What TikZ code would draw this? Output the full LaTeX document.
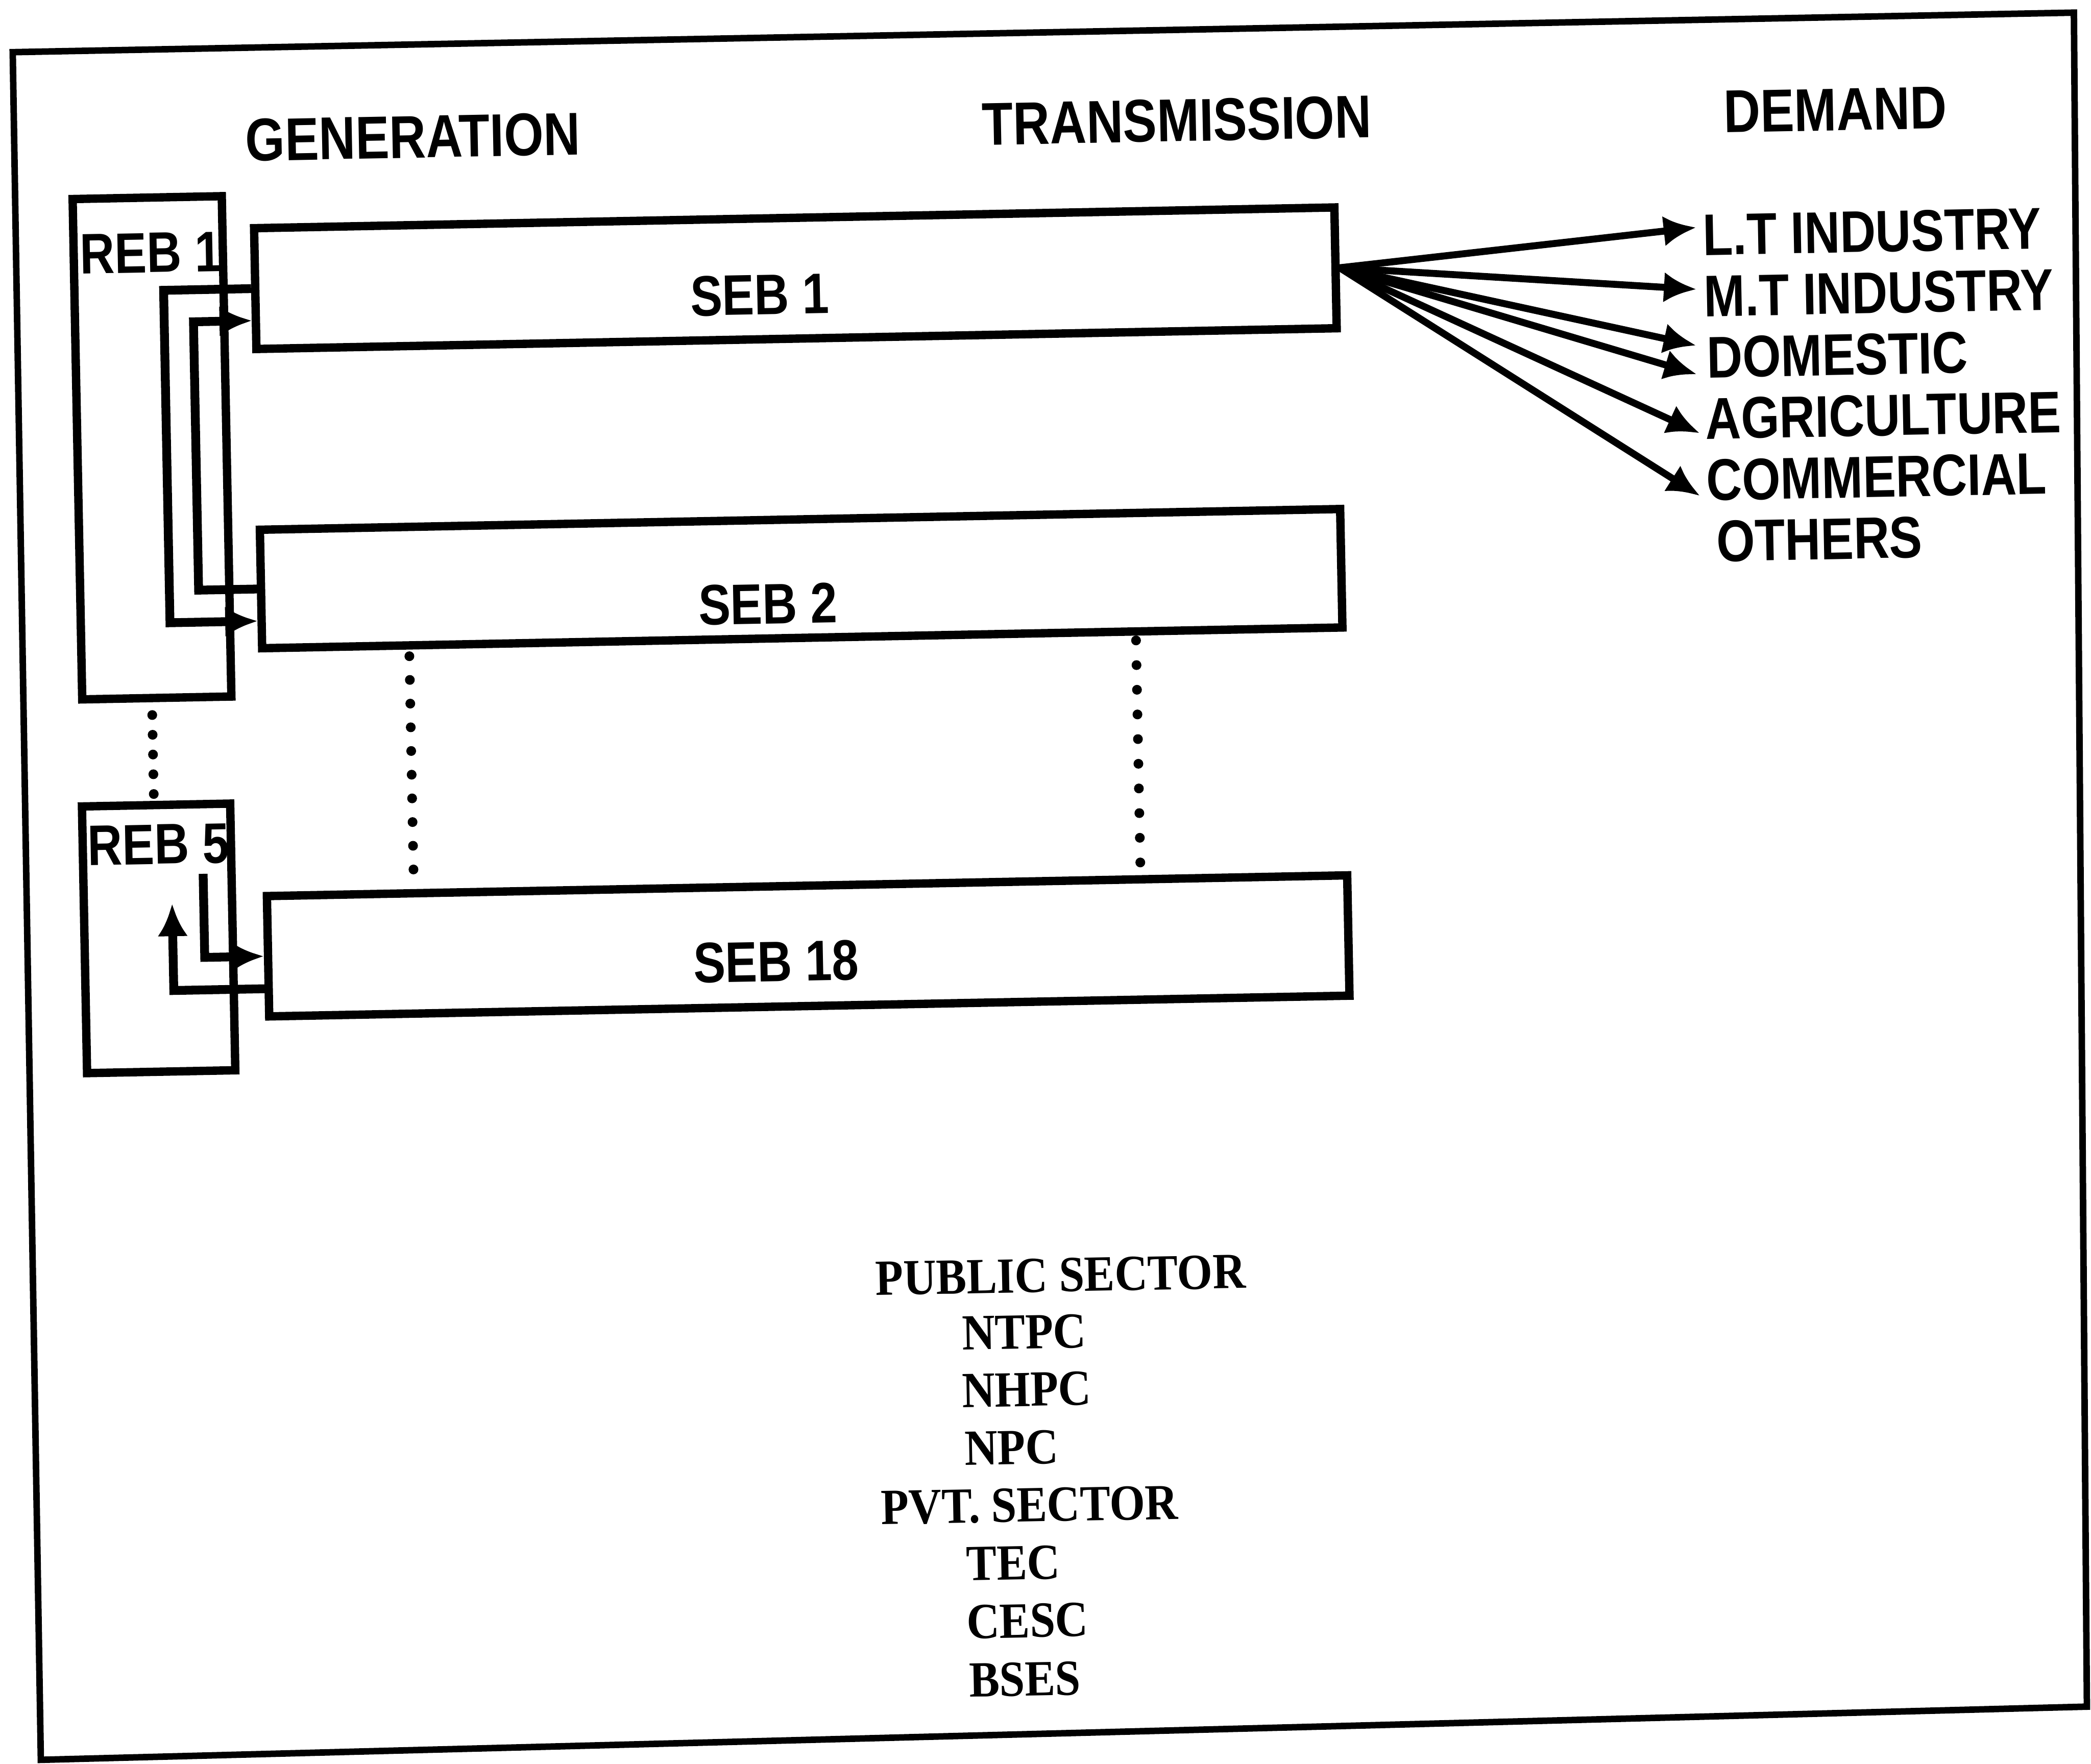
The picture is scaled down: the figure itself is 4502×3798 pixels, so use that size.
\documentclass[tikz,border=0pt]{standalone}
\usepackage{fontspec}
\usetikzlibrary{arrows.meta}
\newfontfamily\labsans{Liberation Sans}[FakeStretch=0.84]
\newfontfamily\labserif{Liberation Serif}[FakeStretch=0.9]
\tikzset{
  frame/.style={line width=0.14cm, line join=miter},
  box/.style={draw, line width=0.18cm, inner sep=0pt, minimum width=23.25cm},
  rebbox/.style={draw, line width=0.18cm, inner sep=0pt},
  conn/.style={line width=0.19cm},
  dconn/.style={line width=0.15cm},
  tip/.style={-{Latex[length=0.7cm,width=0.65cm]}},
  dots/.style={line width=0.21cm, line cap=round},
  hdr/.style={font=\labsans\bfseries\fontsize{37pt}{44pt}\selectfont, inner sep=0pt, anchor=base},
  lab/.style={font=\labsans\bfseries\fontsize{35pt}{42pt}\selectfont, inner sep=0pt},
  dem/.style={font=\labsans\bfseries\fontsize{36pt}{42pt}\selectfont, inner sep=0pt, anchor=base west},
  sect/.style={font=\labserif\bfseries\fontsize{31pt}{36pt}\selectfont, inner sep=0pt, anchor=base west}
}
\begin{document}
\begin{tikzpicture}[x=0.01cm,y=-0.01cm]
\useasboundingbox (0,0) rectangle (4502,3798);
\fill[white] (0,0) rectangle (4502,3798);
\begin{scope}[rotate around={1.1:(2251,1899)}, transform shape]
% outer frame
\coordinate (f1) at (62,70);
\coordinate (f2) at (4501,70);
\coordinate (f3) at (4459,3718);
\coordinate (f4) at (52,3748);
\draw[frame] (f1) -- (f2) -- (f3) -- (f4) -- cycle;
% headers
\node[hdr] (hgen) at (920,314) {GENERATION};
\node[hdr] (htra) at (2565,310) {TRANSMISSION};
\node[hdr] (hdem) at (3983,314) {DEMAND};
% boxes
\node[box, minimum height=2.6cm] (seb1) at (1737.5,589) {};
\node[box, minimum height=2.55cm] (seb2) at (1737.5,1236) {};
\node[box, minimum height=2.59cm] (seb18) at (1737.5,2027) {};
\node[rebbox, minimum width=3.21cm, minimum height=10.77cm] (reb1) at (345.5,927.5) {};
\node[rebbox, minimum width=3.19cm, minimum height=5.74cm] (reb5) at (339.5,1984) {};
% box labels
\node[lab, anchor=base] (seb1l) at (1660,666) {SEB 1};
\node[lab, anchor=base] (seb2l) at (1665,1332) {SEB 2};
\node[lab, anchor=base] (seb18l) at (1668,2102) {SEB 18};
\node[lab, anchor=base west] (reb1l) at (198,550) {REB 1};
\node[lab, anchor=base west] (reb5l) at (190,1824) {REB 5};
% loops between SEB 1 and SEB 2
\coordinate (o1) at (377,589);
\coordinate (o2) at (377,1305);
\coordinate (o3) at (566,1305);
\draw[conn, tip] (seb1.west) -- (o1) -- (o2) -- (o3);
\coordinate (i2) at (440,1236);
\coordinate (i3) at (440,658);
\coordinate (i4) at (566,658);
\draw[conn, tip] (seb2.west) -- (i2) -- (i3) -- (i4);
% REB 5 and SEB 18
\coordinate (r1) at (438,1847);
\coordinate (r2) at (438,2027);
\draw[conn, tip] (r1) -- (r2) -- (seb18.west);
\coordinate (s18b) at (566,2097);
\coordinate (r3) at (370,2097);
\coordinate (r4) at (370,1910);
\draw[conn, tip] (s18b) -- (r3) -- (r4);
% dotted continuation lines
\coordinate (d1a) at (891,1387);
\coordinate (d1b) at (891,1847);
\draw[dots, dash pattern=on 0pt off 0.51cm] (d1a) -- (d1b);
\coordinate (d2a) at (2456,1383);
\coordinate (d2b) at (2456,1862);
\draw[dots, dash pattern=on 0pt off 0.531cm] (d2a) -- (d2b);
\coordinate (d3a) at (335,1503);
\coordinate (d3b) at (335,1674);
\draw[dots, dash pattern=on 0pt off 0.425cm] (d3a) -- (d3b);
% demand labels
\node[dem] (lt) at (3692,577) {L.T INDUSTRY};
\node[dem] (mt) at (3692,709) {M.T INDUSTRY};
\node[dem] (dom) at (3696,841) {DOMESTIC};
\node[dem] (agr) at (3690,973) {AGRICULTURE};
\node[dem] (com) at (3690,1105) {COMMERCIAL};
\node[dem] (oth) at (3709,1237) {OTHERS};
% demand arrows
\coordinate (t1) at (3679,517);
\coordinate (t2) at (3677,650);
\coordinate (t3) at (3674,771);
\coordinate (t4) at (3674,833);
\coordinate (t5) at (3678,960);
\coordinate (t6) at (3676,1095);
\foreach \t in {t1,t2,t3,t4,t5,t6}
  \draw[dconn, tip] (seb1.east) -- (\t);
% sectors
\node[sect] (pub) at (1868,2782) {PUBLIC SECTOR};
\node[sect] (ntpc) at (2052,2903) {NTPC};
\node[sect] (nhpc) at (2050,3027) {NHPC};
\node[sect] (npc) at (2053,3152) {NPC};
\node[sect] (pvt) at (1870,3276) {PVT. SECTOR};
\node[sect] (tec) at (2052,3400) {TEC};
\node[sect] (cesc) at (2050,3525) {CESC};
\node[sect] (bses) at (2053,3651) {BSES};
\end{scope}
\end{tikzpicture}
\end{document}
